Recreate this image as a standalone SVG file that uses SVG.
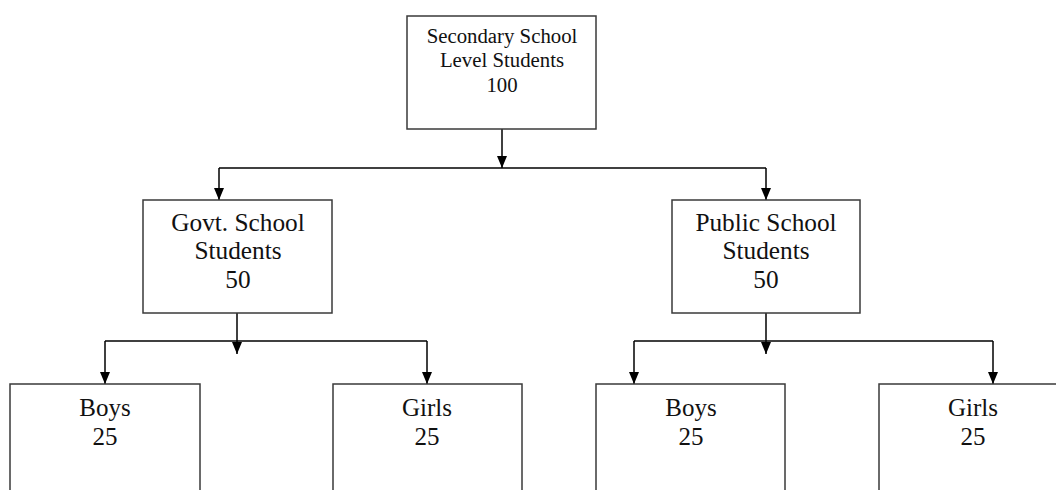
<svg xmlns="http://www.w3.org/2000/svg" width="1056" height="490" viewBox="0 0 1056 490">
<defs>
<style>
.box{fill:#fff;stroke:#3a3a3a;stroke-width:1.5}
.t{font-family:"Liberation Serif","Times New Roman",serif;fill:#111;text-anchor:middle}
.top{font-size:20.8px}
.mid{font-size:25.3px}
.bot{font-size:25px}
.c{fill:none;stroke:#000;stroke-width:1.5}
</style>
<marker id="ah" viewBox="0 0 12 10" refX="12" refY="5" markerWidth="12" markerHeight="10" markerUnits="userSpaceOnUse" orient="auto">
<path d="M0,0 L12,5 L0,10 z" fill="#000"/>
</marker>
</defs>
<rect width="1056" height="490" fill="#fff"/>
<g id="connectors">
<path class="c" d="M502,129 V168" marker-end="url(#ah)"/>
<path class="c" d="M219,168 H766"/>
<path class="c" d="M219,168 V200" marker-end="url(#ah)"/>
<path class="c" d="M766,168 V200" marker-end="url(#ah)"/>
<path class="c" d="M237,313 V354" marker-end="url(#ah)"/>
<path class="c" d="M105,341 H427"/>
<path class="c" d="M105,341 V384" marker-end="url(#ah)"/>
<path class="c" d="M427,341 V384" marker-end="url(#ah)"/>
<path class="c" d="M766,313 V354" marker-end="url(#ah)"/>
<path class="c" d="M634,341 H993"/>
<path class="c" d="M634,341 V384" marker-end="url(#ah)"/>
<path class="c" d="M993,341 V384" marker-end="url(#ah)"/>
</g>
<g id="root">
<rect class="box" x="407" y="16" width="189" height="113"/>
<text class="t top" x="502" y="43">Secondary School</text>
<text class="t top" x="502" y="67">Level Students</text>
<text class="t top" x="502" y="92">100</text>
</g>
<g id="govt">
<rect class="box" x="143" y="200" width="189" height="113"/>
<text class="t mid" x="238" y="231">Govt. School</text>
<text class="t mid" x="238" y="259">Students</text>
<text class="t mid" x="238" y="288">50</text>
</g>
<g id="public">
<rect class="box" x="672" y="200" width="188" height="113"/>
<text class="t mid" x="766" y="231">Public School</text>
<text class="t mid" x="766" y="259">Students</text>
<text class="t mid" x="766" y="288">50</text>
</g>
<g id="govt-boys">
<rect class="box" x="10" y="384" width="190" height="113"/>
<text class="t bot" x="105" y="416">Boys</text>
<text class="t bot" x="105" y="445">25</text>
</g>
<g id="govt-girls">
<rect class="box" x="333" y="384" width="189" height="113"/>
<text class="t bot" x="427" y="416">Girls</text>
<text class="t bot" x="427" y="445">25</text>
</g>
<g id="public-boys">
<rect class="box" x="596" y="384" width="189" height="113"/>
<text class="t bot" x="691" y="416">Boys</text>
<text class="t bot" x="691" y="445">25</text>
</g>
<g id="public-girls">
<rect class="box" x="879" y="384" width="189" height="113"/>
<text class="t bot" x="973" y="416">Girls</text>
<text class="t bot" x="973" y="445">25</text>
</g>
</svg>
